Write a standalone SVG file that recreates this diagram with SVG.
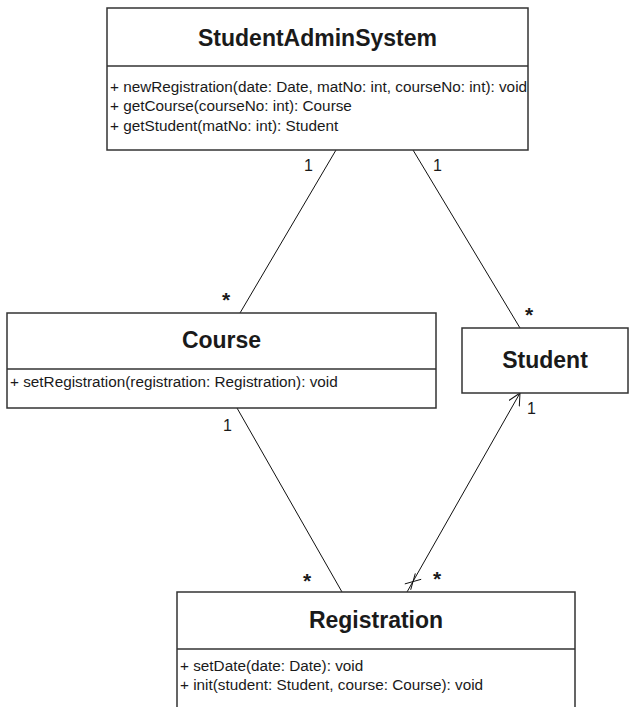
<svg xmlns="http://www.w3.org/2000/svg" width="636" height="707" viewBox="0 0 636 707">
<style>
.box{fill:#fff;stroke:#333;stroke-width:1.5}
.div{stroke:#333;stroke-width:1.5}
.title{font-family:"Liberation Sans",Arial,sans-serif;font-size:23px;font-weight:bold;fill:#1a1a1a;text-anchor:middle}
.m{font-family:"Liberation Sans",Arial,sans-serif;font-size:15.3px;fill:#1a1a1a}
.lbl{font-family:"Liberation Sans",Arial,sans-serif;font-size:16px;fill:#1a1a1a}
.star{font-family:"Liberation Sans",Arial,sans-serif;font-size:21px;font-weight:bold;fill:#1a1a1a}
.c{stroke:#111;stroke-width:1;fill:none}
</style>
<defs>
<marker id="open" markerWidth="14" markerHeight="14" refX="12" refY="6" orient="auto" markerUnits="userSpaceOnUse">
<path d="M0,0 L12,6 L0,12" fill="none" stroke="#111" stroke-width="1"/>
</marker>
</defs>
<rect width="636" height="707" fill="#fff"/>
<g id="connectors">
<line class="c" x1="336" y1="150" x2="240" y2="313"/>
<line class="c" x1="413" y1="150" x2="520" y2="328"/>
<line class="c" x1="237" y1="408" x2="342" y2="592"/>
<line class="c" x1="407" y1="592" x2="520" y2="393" marker-end="url(#open)"/>
<line class="c" x1="404.8" y1="583.9" x2="421.2" y2="579.3"/>
<line class="c" x1="410.7" y1="589.8" x2="415.3" y2="573.4"/>
<text class="lbl" x="304" y="171">1</text>
<text class="star" x="222" y="307">*</text>
<text class="lbl" x="433" y="171">1</text>
<text class="star" x="525" y="322">*</text>
<text class="lbl" x="223" y="431">1</text>
<text class="star" x="303" y="588">*</text>
<text class="star" x="433" y="586">*</text>
<text class="lbl" x="527" y="414">1</text>
</g>
<g id="StudentAdminSystem">
<rect class="box" x="107" y="8" width="421" height="142"/>
<line class="div" x1="107" y1="66" x2="528" y2="66"/>
<text class="title" x="317.5" y="46">StudentAdminSystem</text>
<text class="m" x="110" y="92">+ newRegistration(date: Date, matNo: int, courseNo: int): void</text>
<text class="m" x="110" y="111">+ getCourse(courseNo: int): Course</text>
<text class="m" x="110" y="131">+ getStudent(matNo: int): Student</text>
</g>
<g id="Course">
<rect class="box" x="7" y="313" width="429" height="95"/>
<line class="div" x1="7" y1="369" x2="436" y2="369"/>
<text class="title" x="221.5" y="348">Course</text>
<text class="m" x="10" y="387">+ setRegistration(registration: Registration): void</text>
</g>
<g id="Student">
<rect class="box" x="462" y="328" width="166" height="65"/>
<text class="title" x="545" y="368">Student</text>
</g>
<g id="Registration">
<path class="box" d="M177,720 L177,592 L575,592 L575,720"/>
<line class="div" x1="177" y1="649" x2="575" y2="649"/>
<text class="title" x="376" y="628">Registration</text>
<text class="m" x="180" y="671">+ setDate(date: Date): void</text>
<text class="m" x="180" y="690">+ init(student: Student, course: Course): void</text>
</g>
</svg>
